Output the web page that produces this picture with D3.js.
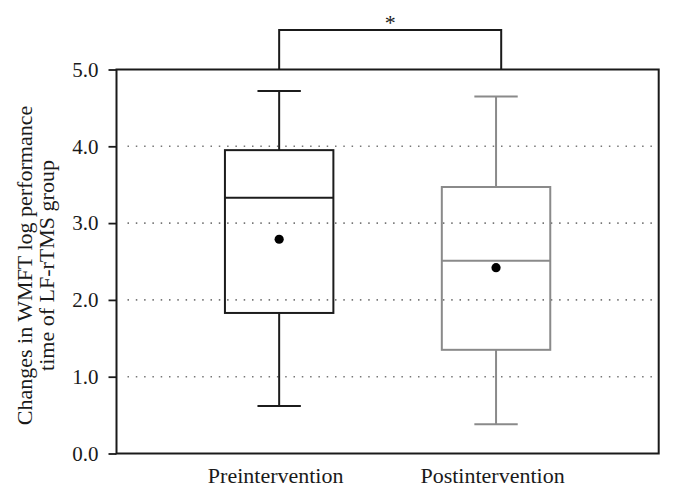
<!DOCTYPE html>
<html>
<head>
<meta charset="utf-8">
<script src="https://cdn.jsdelivr.net/npm/d3@7"></script>
<style>
  html, body { margin: 0; padding: 0; background: #fff; }
  svg { display: block; }
  text { font-family: "Liberation Serif", "DejaVu Serif", serif; fill: #1a1a1a; }
</style>
</head>
<body>
<svg id="chart" width="673" height="496"></svg>
<script>
const categories = ["Preintervention", "Postintervention"];
const whiskerLow = [0.62, 0.38];
const q1 = [1.83, 1.35];
const median = [3.33, 2.51];
const q3 = [3.95, 3.47];
const whiskerHigh = [4.72, 4.65];
const means = [2.79, 2.42];
const yTicks = [0, 1, 2, 3, 4, 5];
const gridTicks = [1, 2, 3, 4];
const seriesColors = ["#1c1c1c", "#8a8a8a"];
const yTitle = ["Changes in WMFT log performance", "time of LF-rTMS group"];
const sigLabel = "*";

(function () {
const svg = d3.select("#chart");
const pL = 116.5, pR = 658.7, pT = 69.5, pB = 453.5;

const x = d3.scalePoint().domain(categories).range([pL, pR]).padding(0.75);
const y = d3.scaleLinear().domain([0, 5]).range([pB, pT]);
const step = x.step();
const boxW = step * 0.5;
const capW = step * 0.2;

// grid lines
svg.append("g").selectAll("line").data(gridTicks).join("line")
  .attr("x1", pL + 11).attr("x2", pR - 4)
  .attr("y1", d => y(d)).attr("y2", d => y(d))
  .attr("stroke", "#777").attr("stroke-width", 1.6)
  .attr("stroke-dasharray", "1.5,6.8");

// y axis
const yAxis = d3.axisLeft(y).tickValues(yTicks).tickFormat(d3.format(".1f"))
  .tickSize(8).tickPadding(10);
const gy = svg.append("g").attr("transform", `translate(${pL},0)`).call(yAxis);
gy.select(".domain").remove();
gy.selectAll(".tick line").attr("stroke", "#1a1a1a").attr("stroke-width", 1.8);
gy.selectAll(".tick text").style("font-size", "21px")
  .style("font-family", "'Liberation Serif', serif").attr("fill", "#1a1a1a");

// frame
svg.append("rect")
  .attr("x", pL).attr("y", pT)
  .attr("width", pR - pL).attr("height", pB - pT)
  .attr("fill", "none").attr("stroke", "#1a1a1a").attr("stroke-width", 2);

// x labels
const xAxis = d3.axisBottom(x).tickSize(0).tickPadding(0);
const gx = svg.append("g").attr("transform", `translate(0,${pB})`).call(xAxis);
gx.select(".domain").remove();
gx.selectAll(".tick text")
  .attr("y", 29.5).attr("dy", 0).attr("dx", -4)
  .style("font-size", "22px")
  .style("font-family", "'Liberation Serif', serif").attr("fill", "#1a1a1a");

// boxes
const data = categories.map((c, i) => ({
  c, lo: whiskerLow[i], q1: q1[i], med: median[i], q3: q3[i], hi: whiskerHigh[i], mean: means[i], color: seriesColors[i]
}));
const g = svg.append("g").selectAll("g").data(data).join("g");
g.append("line")
  .attr("x1", d => x(d.c)).attr("x2", d => x(d.c))
  .attr("y1", d => y(d.hi)).attr("y2", d => y(d.q3))
  .attr("stroke", d => d.color).attr("stroke-width", 2);
g.append("line")
  .attr("x1", d => x(d.c)).attr("x2", d => x(d.c))
  .attr("y1", d => y(d.q1)).attr("y2", d => y(d.lo))
  .attr("stroke", d => d.color).attr("stroke-width", 2);
g.append("line")
  .attr("x1", d => x(d.c) - capW / 2).attr("x2", d => x(d.c) + capW / 2)
  .attr("y1", d => y(d.hi)).attr("y2", d => y(d.hi))
  .attr("stroke", d => d.color).attr("stroke-width", 2);
g.append("line")
  .attr("x1", d => x(d.c) - capW / 2).attr("x2", d => x(d.c) + capW / 2)
  .attr("y1", d => y(d.lo)).attr("y2", d => y(d.lo))
  .attr("stroke", d => d.color).attr("stroke-width", 2);
g.append("rect")
  .attr("x", d => x(d.c) - boxW / 2).attr("width", boxW)
  .attr("y", d => y(d.q3)).attr("height", d => y(d.q1) - y(d.q3))
  .attr("fill", "none").attr("stroke", d => d.color).attr("stroke-width", 2);
g.append("line")
  .attr("x1", d => x(d.c) - boxW / 2).attr("x2", d => x(d.c) + boxW / 2)
  .attr("y1", d => y(d.med)).attr("y2", d => y(d.med))
  .attr("stroke", d => d.color).attr("stroke-width", 2);
g.append("circle")
  .attr("cx", d => x(d.c)).attr("cy", d => y(d.mean)).attr("r", 4.6)
  .attr("fill", "#000");

// significance bracket
const bx1 = x(categories[0]), bx2 = pR - 157.5;
const by = 30;
svg.append("path")
  .attr("d", `M${bx1},${pT} V${by} H${bx2} V${pT}`)
  .attr("fill", "none").attr("stroke", "#1a1a1a").attr("stroke-width", 2);
svg.append("text")
  .attr("x", (bx1 + bx2) / 2).attr("y", 30)
  .attr("text-anchor", "middle").style("font-size", "22px")
  .text(sigLabel);

// y title
const yt = svg.append("text")
  .attr("transform", `translate(32,${(pT + pB) / 2 + 4}) rotate(-90)`)
  .attr("text-anchor", "middle").style("font-size", "22px");
yt.selectAll("tspan").data(yTitle).join("tspan")
  .attr("x", 0).attr("dy", (d, i) => i === 0 ? 0 : 21.5)
  .text(d => d);
})();
</script>
</body>
</html>
